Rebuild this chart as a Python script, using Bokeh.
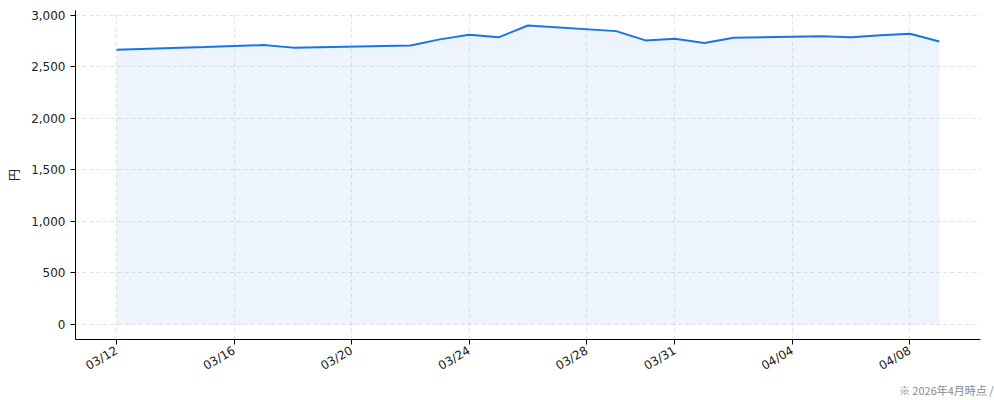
from datetime import datetime
import math
from bokeh.plotting import figure
from bokeh.models import ColumnDataSource, FixedTicker, DatetimeTickFormatter, NumeralTickFormatter, Range1d, Title
from bokeh.embed import file_html
from bokeh.resources import INLINE

dates = ["2026-03-12", "2026-03-15", "2026-03-16", "2026-03-17", "2026-03-18",
         "2026-03-22", "2026-03-23", "2026-03-24", "2026-03-25", "2026-03-26",
         "2026-03-29", "2026-03-30", "2026-03-31", "2026-04-01", "2026-04-02",
         "2026-04-05", "2026-04-06", "2026-04-07", "2026-04-08", "2026-04-09"]
prices = [2665, 2690, 2700, 2710, 2685,
          2705, 2765, 2810, 2785, 2900,
          2845, 2755, 2770, 2730, 2780,
          2795, 2785, 2805, 2820, 2745]
x_tick_dates = ["2026-03-12", "2026-03-16", "2026-03-20", "2026-03-24",
                "2026-03-28", "2026-03-31", "2026-04-04", "2026-04-08"]
y_ticks = [0, 500, 1000, 1500, 2000, 2500, 3000]
y_label = "円"
footer = "※ 2026年4月時点 / カブミエ作成"

FONT = "Noto Sans CJK JP"
TICK_FONT = "DejaVu Sans"

xs = [datetime.strptime(d, "%Y-%m-%d") for d in dates]
src = ColumnDataSource(dict(x=xs, y=prices, base=[0] * len(prices)))

def ms(d):
    return datetime.strptime(d, "%Y-%m-%d").timestamp() * 1000

x0 = ms(dates[0]); x1 = ms(dates[-1])
span = x1 - x0
ymax = max(prices)

W, H = 994, 400
p = figure(width=W, height=H, x_axis_type="datetime",
           output_backend="svg", toolbar_location=None,
           min_border_left=75, min_border_right=14, min_border_top=10, min_border_bottom=60)
p.x_range = Range1d(x0 - 0.05 * span, x1 + 0.05 * span)
p.y_range = Range1d(-0.05 * ymax, 1.05 * ymax)

p.varea(x="x", y1="base", y2="y", source=src, fill_color="#1a73e8", fill_alpha=0.08)
p.line(x="x", y="y", source=src, line_color="#1a73e8", line_width=2)

p.outline_line_color = None
p.background_fill_color = "white"

p.xaxis.ticker = FixedTicker(ticks=[ms(d) for d in x_tick_dates])
p.xaxis.formatter = DatetimeTickFormatter(days="%m/%d", months="%m/%d", hours="%m/%d")
p.xaxis.major_label_orientation = math.pi / 6
p.yaxis.ticker = FixedTicker(ticks=y_ticks)
p.yaxis.formatter = NumeralTickFormatter(format="0,0")
p.yaxis.axis_label = y_label

for ax in (p.xaxis, p.yaxis):
    ax.axis_line_color = "black"
    ax.axis_line_width = 1
    ax.major_tick_line_color = "black"
    ax.major_tick_out = 5
    ax.major_tick_in = 0
    ax.minor_tick_line_color = None
    ax.major_label_text_font = TICK_FONT
    ax.major_label_text_font_size = "12px"
    ax.major_label_text_color = "#222222"
    ax.axis_label_text_font = FONT
    ax.axis_label_text_font_size = "12px"
    ax.axis_label_text_font_style = "normal"
    ax.axis_label_text_color = "#222222"
p.yaxis.axis_label_standoff = 6

p.xgrid.ticker = p.xaxis.ticker
p.ygrid.ticker = p.yaxis.ticker
for g in (p.xgrid, p.ygrid):
    g.grid_line_color = "#dcdcdc"
    g.grid_line_dash = "4 3"
    g.grid_line_width = 1
    g.grid_line_alpha = 0.8

xax = p.xaxis[0]
if "axis_label_align" in xax.properties():
    xax.axis_label = footer
    xax.axis_label_align = "end"
    xax.axis_label_standoff = 0
    xax.axis_label_text_font = FONT
    xax.axis_label_text_font_size = "11px"
    xax.axis_label_text_color = "#888888"
else:
    note = Title(text=footer, align="right", text_font=FONT, text_font_size="11px",
                 text_font_style="normal", text_color="#888888", offset=-4, standoff=0)
    p.add_layout(note, "below")

open("out.html", "w").write(file_html(p, INLINE))
